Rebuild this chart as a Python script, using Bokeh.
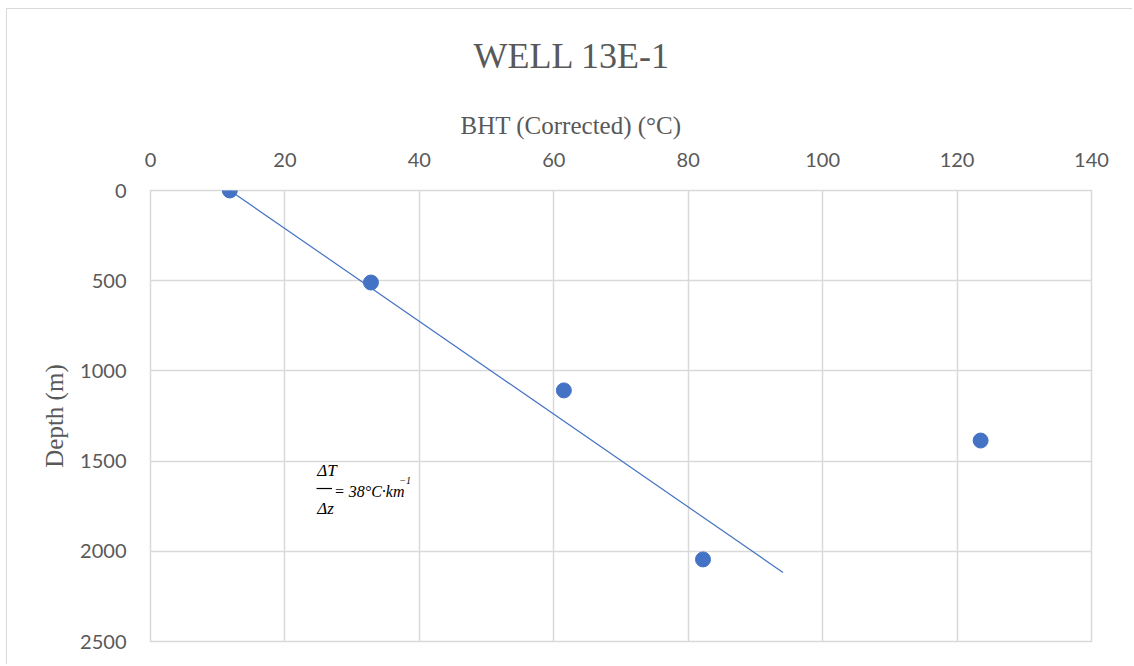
from bokeh.plotting import figure
from bokeh.models import Range1d, FixedTicker, Title
from bokeh.core.properties import value
from bokeh.embed import file_html
from bokeh.resources import INLINE

# data
bht = [11.8, 32.8, 61.5, 82.2, 123.5]
depth = [0, 510, 1108, 2045, 1386]
trend_bht = [11.8, 94.1]
trend_depth = [0, 2117]
x_ticks = [0, 20, 40, 60, 80, 100, 120, 140]
y_ticks = [0, 500, 1000, 1500, 2000, 2500]

GRAY = "#595959"
BLUE = "#4472C4"
GRID = "#d9d9d9"
SERIF = "Liberation Serif"
SANS = "Lato"

p = figure(width=1126, height=656, output_backend="svg", toolbar_location=None,
           x_range=Range1d(0, 140), y_range=Range1d(2500, 0),
           x_axis_location="above",
           min_border_left=143, min_border_right=42, min_border_top=181, min_border_bottom=24)
p.outline_line_color = GRID
p.outline_line_width = 1.5
p.styles = {"margin-left": "6px", "margin-top": "8px",
            "border-left": "1px solid #d9d9d9", "border-top": "1px solid #d9d9d9"}

for ax in (p.xaxis[0], p.yaxis[0]):
    ax.axis_line_color = None
    ax.major_tick_line_color = None
    ax.minor_tick_line_color = None
    ax.major_label_text_font = SANS
    ax.major_label_text_font_size = "20px"
    ax.major_label_text_color = GRAY
p.xaxis[0].ticker = FixedTicker(ticks=x_ticks)
p.yaxis[0].ticker = FixedTicker(ticks=y_ticks)
p.xaxis[0].major_label_standoff = 18
p.yaxis[0].major_label_standoff = 18

p.yaxis[0].axis_label = "Depth (m)"
p.yaxis[0].axis_label_text_font = SERIF
p.yaxis[0].axis_label_text_font_size = "25px"
p.yaxis[0].axis_label_text_font_style = "normal"
p.yaxis[0].axis_label_text_color = GRAY
p.yaxis[0].axis_label_standoff = 9

for g in (p.xgrid[0], p.ygrid[0]):
    g.grid_line_color = GRID
    g.grid_line_width = 1.5
p.xgrid[0].ticker = FixedTicker(ticks=x_ticks)
p.ygrid[0].ticker = FixedTicker(ticks=y_ticks)

p.line(trend_bht, trend_depth, line_color=BLUE, line_width=1.2)
p.scatter(bht, depth, size=15, fill_color=BLUE, line_color=BLUE)

# x-axis label (placed as a title, shifted to sit centred on the chart)
p.add_layout(Title(text="BHT (Corrected) (°C)", align="left", offset=310,
                   text_font=SERIF, text_font_size="25px", text_color=GRAY,
                   text_font_style="normal", standoff=22), "above")
p.title.text = "WELL 13E-1"
p.title.align = "left"
p.title.offset = 323
p.title.text_font = SERIF
p.title.text_font_size = "36px"
p.title.text_color = GRAY
p.title.text_font_style = "normal"
p.title.standoff = 46

# gradient annotation
ann = dict(text_font=value(SERIF), text_font_style="italic", text_color="black",
           text_baseline="middle")
p.text(x=[24.8], y=[1550], text=["ΔT"], text_font_size="17px", text_align="left", **ann)
p.text(x=[24.8], y=[1762], text=["Δz"], text_font_size="17px", text_align="left", **ann)
p.segment(x0=[24.7], y0=[1652], x1=[27.0], y1=[1652], line_color="black", line_width=1.2)
p.text(x=[27.3], y=[1668], text=["= 38°C·km"], text_font_size="16px", text_align="left", **ann)
p.text(x=[37.0], y=[1605], text=["−1"], text_font_size="10px", text_align="left", **ann)

open("out.html", "w").write(file_html(p, INLINE))
